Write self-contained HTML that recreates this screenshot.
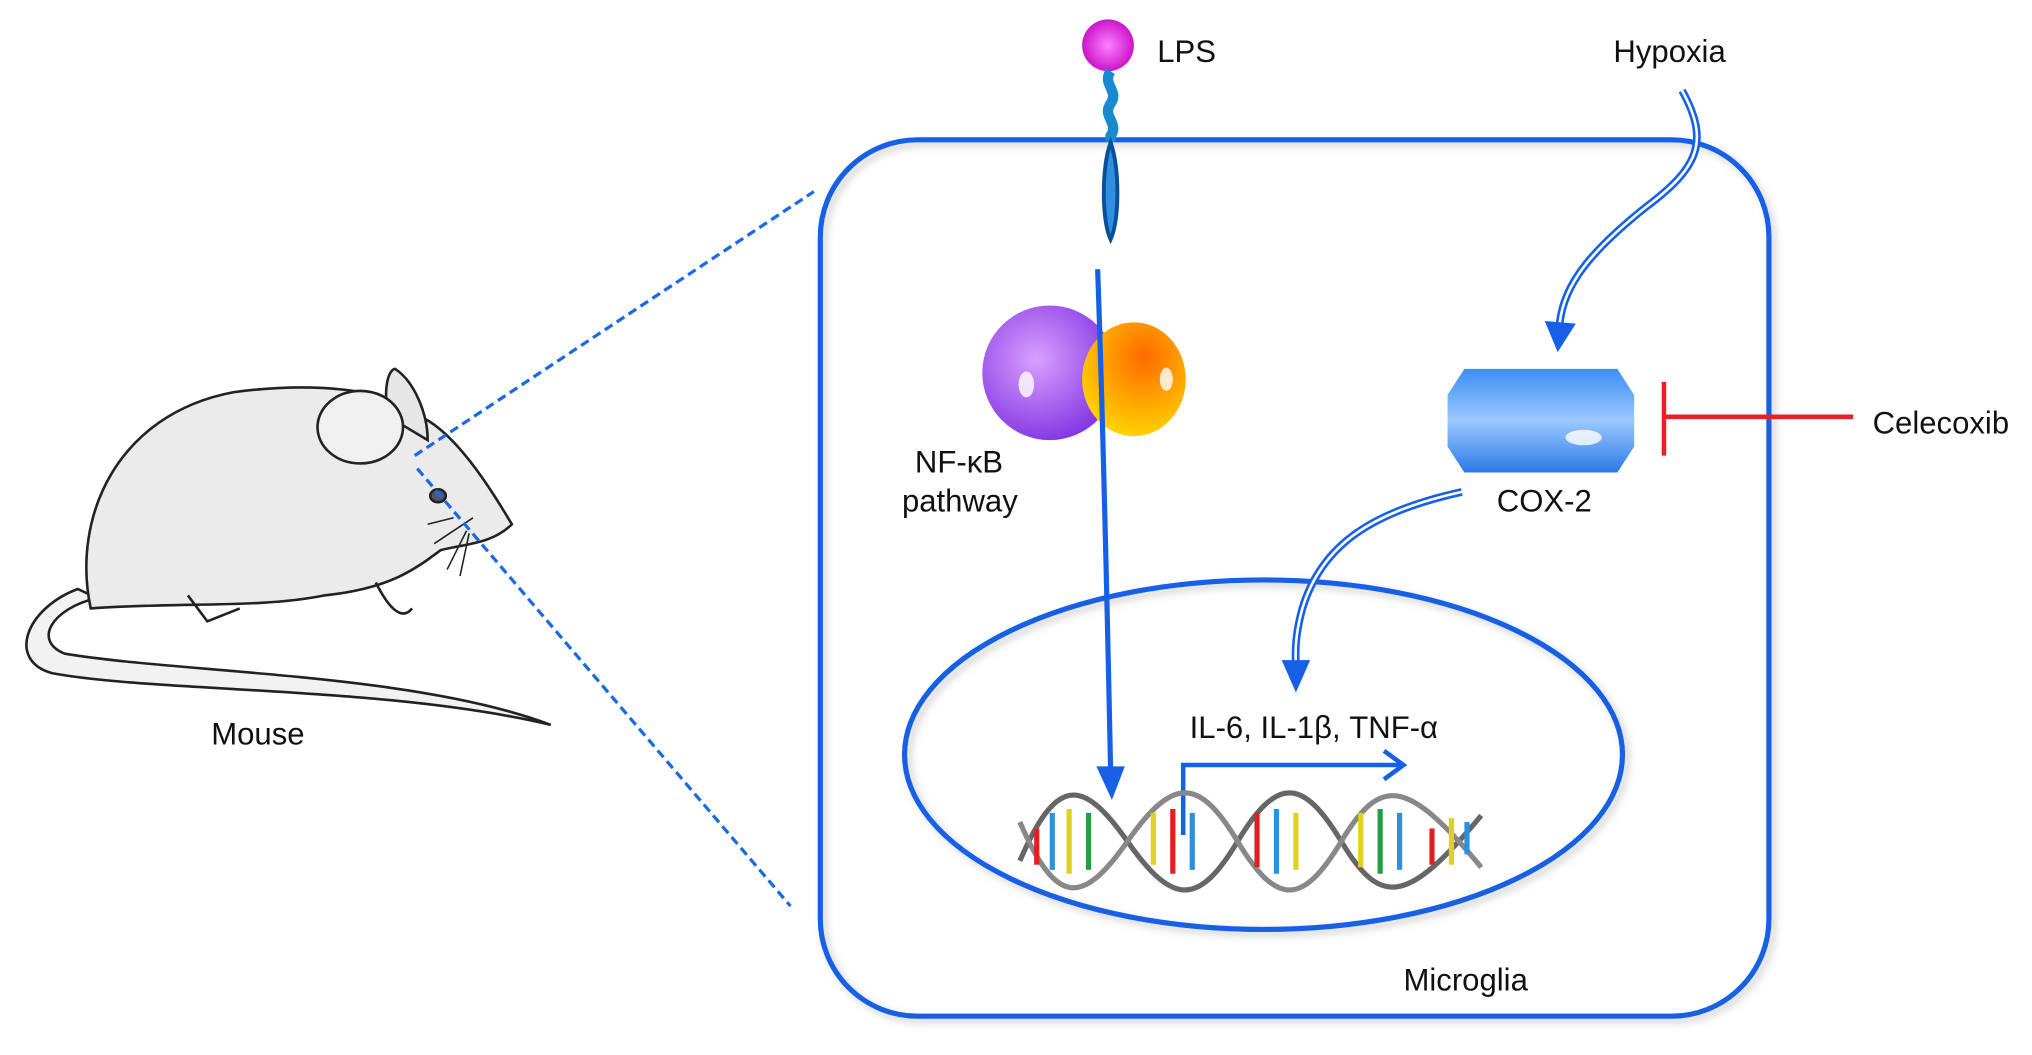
<!DOCTYPE html>
<html><head><meta charset="utf-8"><style>
html,body{margin:0;padding:0;background:#fff;width:2032px;height:1055px;overflow:hidden}
svg{display:block}
text{font-family:"Liberation Sans",sans-serif;font-size:24px;fill:#111}
</style></head><body>
<svg width="2032" height="1055" viewBox="0 0 1568 815" preserveAspectRatio="none" xmlns="http://www.w3.org/2000/svg">
<defs>
<radialGradient id="pu" cx="0.4" cy="0.4" r="0.7"><stop offset="0" stop-color="#d9a0ff"/><stop offset="1" stop-color="#7a2be0"/></radialGradient>
<radialGradient id="or" cx="0.6" cy="0.3" r="0.8"><stop offset="0" stop-color="#ff6a00"/><stop offset="0.6" stop-color="#ffb000"/><stop offset="1" stop-color="#ffe000"/></radialGradient>
<linearGradient id="cx" x1="0" y1="0" x2="0" y2="1"><stop offset="0" stop-color="#3d8ef5"/><stop offset="0.5" stop-color="#9cc8ff"/><stop offset="1" stop-color="#2a7ae8"/></linearGradient>
<radialGradient id="lp" cx="0.5" cy="0.5" r="0.6"><stop offset="0" stop-color="#ff80ff"/><stop offset="1" stop-color="#c000c0"/></radialGradient>
<filter id="sh"><feDropShadow dx="3" dy="3" stdDeviation="3" flood-color="#999" flood-opacity="0.5"/></filter>
</defs>
<!-- mouse -->
<g stroke="#222" stroke-width="2" fill="#ebebeb">
<path d="M60,455 C20,470 5,510 40,520 C120,535 300,530 425,560 C320,520 140,520 50,505 C25,495 40,470 75,462 Z" fill="#f2f2f2"/>
<path d="M70,470 C55,400 90,320 180,303 C240,295 300,300 320,320 C350,330 380,380 395,405 C380,420 360,420 340,425 C320,440 300,455 250,460 C200,470 140,465 70,470 Z"/>
<path d="M300,322 C295,300 300,285 305,285 C320,295 330,320 330,340 Z" fill="#e6e6e6"/>
<ellipse cx="278" cy="330" rx="33" ry="28" fill="#f0f0f0"/>
<ellipse cx="338" cy="383" rx="6" ry="5" fill="#556"/>
<path d="M290,450 C300,470 310,480 318,470 M145,460 L160,480 L185,470" fill="none"/>
<path d="M330,405 L350,400 M335,420 L365,400 M345,440 L360,410 M355,445 L362,412" fill="none" stroke-width="1.2"/>
</g>
<text x="163" y="575">Mouse</text>
<g stroke="#1a6ae8" stroke-width="2.5" stroke-dasharray="7,4" fill="none">
<path d="M320,352 L628,148"/><path d="M322,362 L610,700"/>
</g>
<rect x="633" y="108" width="732" height="677" rx="75" fill="none" stroke="#1560e6" stroke-width="4" filter="url(#sh)"/>
<ellipse cx="975" cy="583" rx="277" ry="135" fill="none" stroke="#1560e6" stroke-width="4" filter="url(#sh)"/>
<circle cx="855" cy="35" r="20" fill="url(#lp)"/>
<path d="M857,55 C850,65 864,70 857,80 C850,90 864,95 857,105 L857,110" stroke="#1a8ad0" stroke-width="8" fill="none"/>
<path d="M857,110 C850,130 850,170 857,185 C864,170 864,130 857,110 Z" fill="#2f8fe0" stroke="#0a4f9a" stroke-width="3"/>
<text x="893" y="48">LPS</text>
<circle cx="810" cy="288" r="52" fill="url(#pu)"/>
<ellipse cx="875" cy="293" rx="40" ry="44" fill="url(#or)"/>
<ellipse cx="792" cy="297" rx="6" ry="10" fill="#fff" opacity="0.8"/>
<ellipse cx="900" cy="293" rx="5" ry="9" fill="#fff" opacity="0.8"/>
<text x="706" y="365">NF-κB</text>
<text x="696" y="395">pathway</text>
<path d="M847,208 C852,350 855,500 857,595" stroke="#1560e6" stroke-width="4" fill="none"/>
<path d="M846,592 L868,592 L858,618 Z" fill="#1560e6"/>
<text x="1245" y="48">Hypoxia</text>
<path d="M1298,70 C1320,110 1310,130 1270,160 C1220,200 1205,225 1203,255" stroke="#1560e6" stroke-width="6" fill="none"/>
<path d="M1298,70 C1320,110 1310,130 1270,160 C1220,200 1205,225 1203,255" stroke="#fff" stroke-width="2" fill="none"/>
<path d="M1192,248 L1216,250 L1202,272 Z" fill="#1560e6"/>
<polygon points="1130,285 1248,285 1261,305 1261,345 1248,365 1130,365 1117,345 1117,305" fill="url(#cx)"/>
<ellipse cx="1222" cy="338" rx="14" ry="6" fill="#fff" opacity="0.8"/>
<text x="1155" y="395">COX-2</text>
<path d="M1430,322 L1284,322 M1284,295 L1284,352" stroke="#e8202a" stroke-width="3.5" fill="none"/>
<text x="1445" y="335">Celecoxib</text>
<path d="M1128,380 C1060,395 1020,420 1005,470 C998,495 1000,510 1000,515" stroke="#1560e6" stroke-width="6" fill="none"/>
<path d="M1128,380 C1060,395 1020,420 1005,470 C998,495 1000,510 1000,515" stroke="#fff" stroke-width="2" fill="none"/>
<path d="M989,510 L1011,510 L1000,535 Z" fill="#1560e6"/>
<text x="918" y="570">IL-6, IL-1β, TNF-α</text>
<path d="M913,645 L913,591 L1080,591" stroke="#1560e6" stroke-width="3.5" fill="none"/>
<path d="M1068,580 L1083,591 L1068,602" stroke="#1560e6" stroke-width="3.5" fill="none"/>
<g fill="none" stroke-width="4">
<path d="M787,665 C815,600 835,600 870,650 C905,700 925,700 955,650 C985,600 1005,600 1035,650 C1065,700 1085,700 1143,630" stroke="#666"/>
<path d="M787,635 C815,700 835,700 870,650 C905,600 925,600 955,650 C985,700 1005,700 1035,650 C1065,600 1085,600 1143,670" stroke="#888"/>
</g>
<g stroke-width="4">
<path d="M800,640 L800,668" stroke="#e02020"/><path d="M812,628 L812,672" stroke="#2a90e0"/><path d="M825,625 L825,675" stroke="#e0d020"/><path d="M840,628 L840,672" stroke="#20a040"/>
<path d="M890,628 L890,668" stroke="#e0d020"/><path d="M905,625 L905,675" stroke="#e02020"/><path d="M920,628 L920,672" stroke="#2a90e0"/>
<path d="M970,628 L970,670" stroke="#e02020"/><path d="M985,625 L985,675" stroke="#2a90e0"/><path d="M1000,628 L1000,672" stroke="#e0d020"/>
<path d="M1050,628 L1050,670" stroke="#e0d020"/><path d="M1065,625 L1065,675" stroke="#20a040"/><path d="M1080,628 L1080,672" stroke="#2a90e0"/>
<path d="M1105,640 L1105,668" stroke="#e02020"/><path d="M1120,632 L1120,668" stroke="#e0d020"/><path d="M1132,635 L1132,660" stroke="#2a90e0"/>
</g>
<text x="1083" y="765">Microglia</text>
</svg>
</body></html>
